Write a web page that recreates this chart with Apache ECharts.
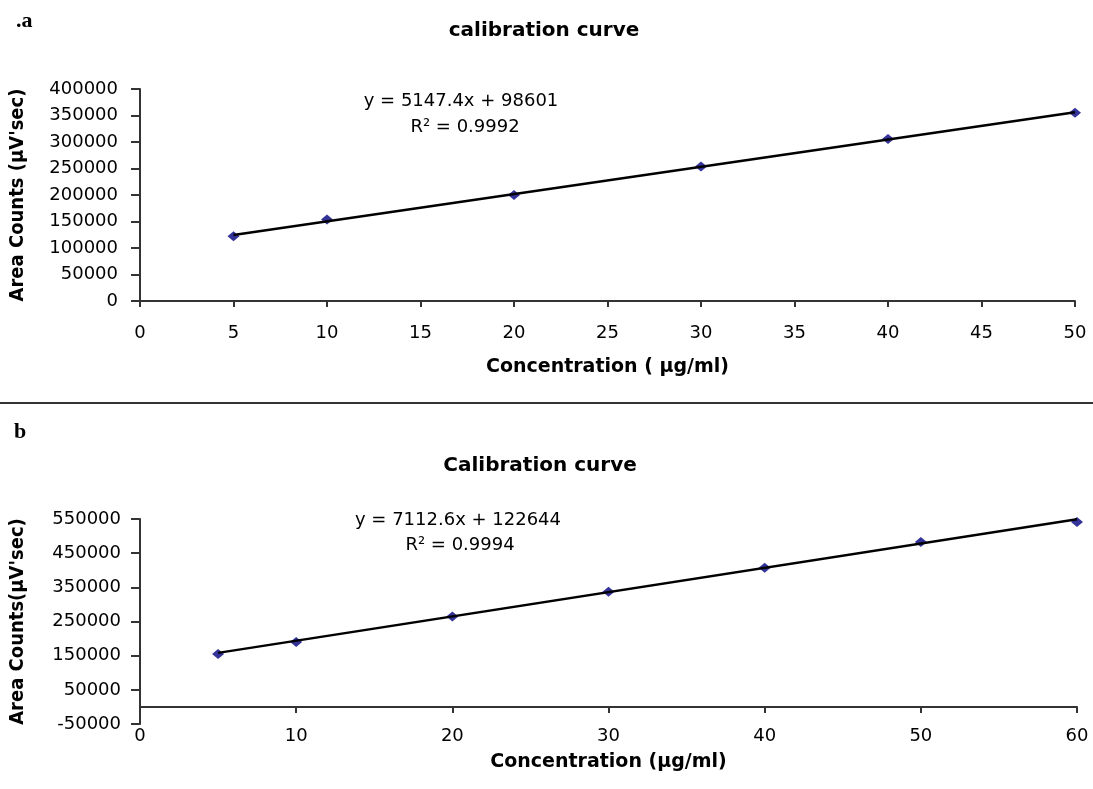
<!DOCTYPE html>
<html>
<head>
<meta charset="utf-8">
<script src="https://cdn.jsdelivr.net/npm/echarts@6/dist/echarts.min.js"></script>
<style>
html,body{margin:0;padding:0;background:#fff;}
#chart{width:1093px;height:789px;}
</style>
</head>
<body>
<div id="chart"></div>
<script>
// ---- Panel a data ----
const concA = [5, 10, 20, 30, 40, 50];
const areaA = [122000, 154000, 200000, 254000, 305500, 355000];
const slopeA = 5147.4;
const interceptA = 98601;
const eqA = 'y = 5147.4x + 98601';
const r2A = 'R² = 0.9992';
const titleA = 'calibration curve';
const xNameA = 'Concentration ( µg/ml)';
const yNameA = "Area Counts (µV'sec)";
const xAxisA = {min: 0, max: 50, interval: 5};
const yAxisA = {min: 0, max: 400000, interval: 50000};

// ---- Panel b data ----
const concB = [5, 10, 20, 30, 40, 50, 60];
const areaB = [155000, 190000, 265000, 337000, 407000, 483000, 541000];
const slopeB = 7112.6;
const interceptB = 122644;
const eqB = 'y = 7112.6x + 122644';
const r2B = 'R² = 0.9994';
const titleB = 'Calibration curve';
const xNameB = 'Concentration (µg/ml)';
const yNameB = "Area Counts(µV'sec)";
const xAxisB = {min: 0, max: 60, interval: 10};
const yAxisB = {min: -50000, max: 550000, interval: 100000};

// trendlines from the displayed regression equations
function trend(xs, m, c) {
  const x0 = xs[0], x1 = xs[xs.length - 1];
  return [[x0, m * x0 + c], [x1, m * x1 + c]];
}

const plain = v => String(v);
const tickFont = {fontFamily: 'DejaVu Sans', fontSize: 18, color: '#000', formatter: plain};
const xNameFont = {fontFamily: 'DejaVu Sans', fontWeight: 'bold', fontSize: 19, color: '#000'};
const yNameFont = {fontFamily: '"Liberation Sans Narrow", "DejaVu Sans Condensed", "DejaVu Sans"', fontWeight: 'bold', fontSize: 20, color: '#000'};
const lineStyle = {color: '#333', width: 2};
const eqFont = '18px "DejaVu Sans"';
const titleFont = {fontFamily: 'DejaVu Sans', fontWeight: 'bold', fontSize: 20, color: '#000'};

const chart = echarts.init(document.getElementById('chart'), null, {renderer: 'canvas'});

const option = {
  backgroundColor: '#fff',
  animation: false,
  title: [
    {text: titleA, left: 539, top: 16, textAlign: 'center', textStyle: titleFont},
    {text: titleB, left: 535, top: 451, textAlign: 'center', textStyle: titleFont}
  ],
  grid: [
    {left: 136, right: 18, top: 89, height: 212},
    {left: 136, right: 16, top: 519, height: 205}
  ],
  xAxis: [
    {gridIndex: 0, type: 'value', min: xAxisA.min, max: xAxisA.max, interval: xAxisA.interval,
     name: xNameA, nameLocation: 'middle', nameGap: 57, nameTextStyle: xNameFont,
     axisLine: {show: true, lineStyle: lineStyle},
     axisTick: {show: true, length: 6, lineStyle: lineStyle},
     axisLabel: Object.assign({margin: 23}, tickFont),
     splitLine: {show: false}},
    {gridIndex: 1, type: 'value', min: xAxisB.min, max: xAxisB.max, interval: xAxisB.interval,
     name: xNameB, nameLocation: 'middle', nameGap: 29, nameTextStyle: xNameFont,
     axisLine: {show: true, onZero: true, lineStyle: lineStyle},
     axisTick: {show: true, length: 6, lineStyle: lineStyle},
     axisLabel: Object.assign({margin: 3}, tickFont),
     splitLine: {show: false}}
  ],
  yAxis: [
    {gridIndex: 0, type: 'value', min: yAxisA.min, max: yAxisA.max, interval: yAxisA.interval,
     name: yNameA, nameLocation: 'middle', nameGap: 112, nameRotate: 90, nameTextStyle: yNameFont,
     axisLine: {show: true, lineStyle: lineStyle},
     axisTick: {show: true, length: 9, lineStyle: lineStyle},
     axisLabel: Object.assign({margin: 22}, tickFont),
     splitLine: {show: false}},
    {gridIndex: 1, type: 'value', min: yAxisB.min, max: yAxisB.max, interval: yAxisB.interval,
     name: yNameB, nameLocation: 'middle', nameGap: 112, nameRotate: 90, nameTextStyle: yNameFont,
     axisLine: {show: true, lineStyle: lineStyle},
     axisTick: {show: true, length: 9, lineStyle: lineStyle},
     axisLabel: Object.assign({margin: 19}, tickFont),
     splitLine: {show: false}}
  ],
  series: [
    {type: 'scatter', xAxisIndex: 0, yAxisIndex: 0, symbol: 'diamond', symbolSize: [12, 10],
     itemStyle: {color: '#000080'}, z: 2,
     data: concA.map((c, i) => [c, areaA[i]])},
    {type: 'line', xAxisIndex: 0, yAxisIndex: 0, showSymbol: false, symbol: 'none',
     lineStyle: {color: '#000', width: 2.5}, z: 3,
     data: trend(concA, slopeA, interceptA)},
    {type: 'scatter', xAxisIndex: 1, yAxisIndex: 1, symbol: 'diamond', symbolSize: [12, 10],
     itemStyle: {color: '#000080'}, z: 2,
     data: concB.map((c, i) => [c, areaB[i]])},
    {type: 'line', xAxisIndex: 1, yAxisIndex: 1, showSymbol: false, symbol: 'none',
     lineStyle: {color: '#000', width: 2.5}, z: 3,
     data: trend(concB, slopeB, interceptB)}
  ],
  graphic: [
    {type: 'text', left: 16, top: 10, style: {text: '.a', font: 'bold 22px "Liberation Serif", "DejaVu Serif", serif', fill: '#000'}},
    {type: 'text', left: 14, top: 421, style: {text: 'b', font: 'bold 22px "Liberation Serif", "DejaVu Serif", serif', fill: '#000'}},
    {type: 'rect', shape: {x: 0, y: 402, width: 1093, height: 2}, style: {fill: '#333'}},
    {type: 'text', x: 461, y: 101, style: {text: eqA, font: eqFont, fill: '#000', align: 'center', verticalAlign: 'middle'}},
    {type: 'text', x: 465, y: 127, style: {text: r2A, font: eqFont, fill: '#000', align: 'center', verticalAlign: 'middle'}},
    {type: 'text', x: 458, y: 520, style: {text: eqB, font: eqFont, fill: '#000', align: 'center', verticalAlign: 'middle'}},
    {type: 'text', x: 460, y: 545, style: {text: r2B, font: eqFont, fill: '#000', align: 'center', verticalAlign: 'middle'}}
  ]
};
chart.setOption(option);
</script>
</body>
</html>
